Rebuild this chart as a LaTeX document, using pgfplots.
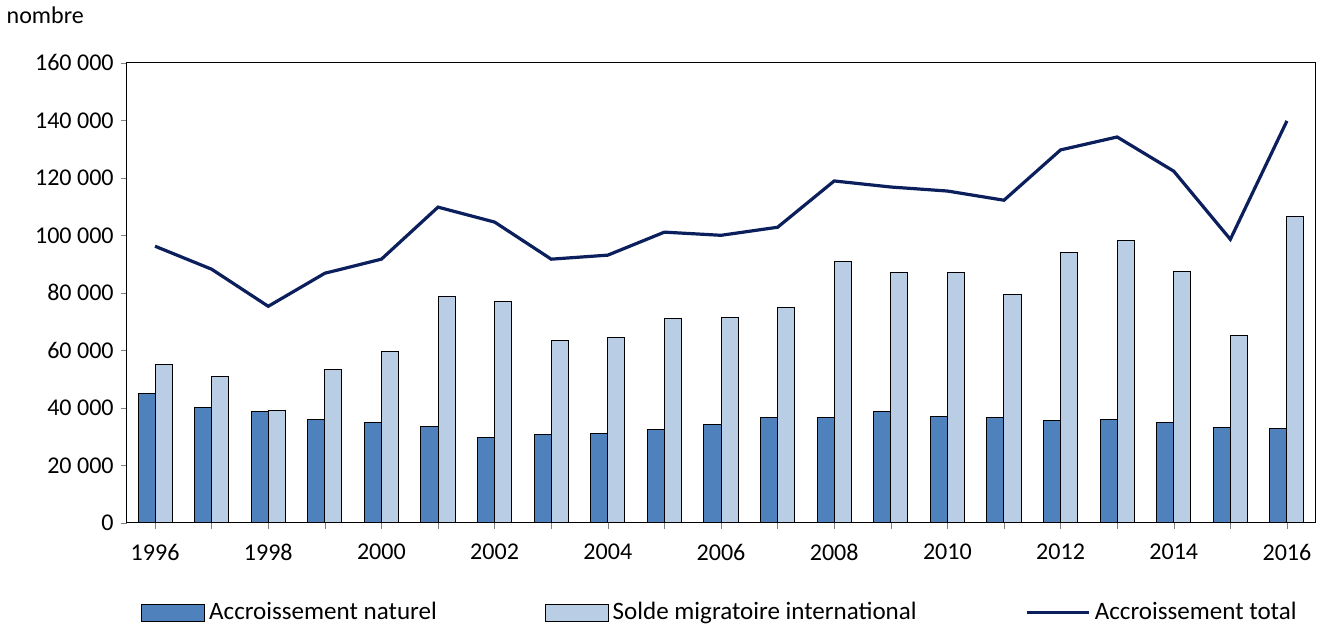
\documentclass[border=0pt]{standalone}
\usepackage{pgfplots}
\pgfplotsset{compat=1.18}
\usepackage{fontspec}
\setmainfont{Carlito}
\definecolor{dark}{HTML}{4F81BD}
\definecolor{light}{HTML}{B9CDE5}
\definecolor{navy}{HTML}{0B1F5C}
\begin{document}
\begin{tikzpicture}
\begin{axis}[
  scale only axis, width=593pt, height=229.5pt,
  xmin=1995.5, xmax=2016.5, ymin=0, ymax=160000,
  scaled y ticks=false,
  xtick={1996,1998,...,2016},
  xticklabel style={/pgf/number format/1000 sep={}, yshift=-4pt},
  minor xtick={1997,1999,...,2015},
  ytick={0,20000,...,160000},
  yticklabels={0,20 000,40 000,60 000,80 000,100 000,120 000,140 000,160 000},
  tick align=outside, tick pos=left,
  major tick length=3pt, minor tick length=3pt,
  ticklabel style={font=\fontsize{12}{14}\selectfont},
  /pgf/number format/assume math mode=true,
  axis line style={black, line width=0.6pt},
  legend style={at={(0.5,-0.155)}, anchor=north, draw=none, legend columns=3,
    font=\fontsize{12.5}{14}\selectfont, /tikz/every even column/.append style={column sep=52pt}},
  legend image code/.code={\draw[#1] (0cm,-0.15cm) rectangle (1.1cm,0.15cm);},
  clip=false,
]
\addplot[ybar, bar width=8.5pt, bar shift=-4.25pt, fill=dark, draw=black, line width=0.5pt] coordinates {
(1996,45000)(1997,40100)(1998,38700)(1999,35900)(2000,34900)(2001,33500)(2002,29600)(2003,30700)(2004,31000)(2005,32400)(2006,34200)(2007,36600)(2008,36600)(2009,38700)(2010,36900)(2011,36600)(2012,35600)(2013,35900)(2014,34900)(2015,33100)(2016,32800)};
\addlegendentry{Accroissement naturel}
\addplot[ybar, bar width=8.5pt, bar shift=4.25pt, fill=light, draw=black, line width=0.5pt] coordinates {
(1996,55100)(1997,50900)(1998,39000)(1999,53300)(2000,59600)(2001,78800)(2002,77000)(2003,63400)(2004,64500)(2005,71100)(2006,71500)(2007,74900)(2008,91000)(2009,87100)(2010,87100)(2011,79500)(2012,94100)(2013,98300)(2014,87500)(2015,65200)(2016,106700)};
\addlegendentry{Solde migratoire international}
\addplot[navy, line width=1.6pt, mark=none, legend image code/.code={\draw[navy,line width=1.6pt] (0cm,0cm) -- (1.1cm,0cm);}] coordinates {
(1996,96200)(1997,88200)(1998,75300)(1999,86800)(2000,91700)(2001,109800)(2002,104600)(2003,91700)(2004,93100)(2005,101100)(2006,100000)(2007,102800)(2008,118900)(2009,116800)(2010,115400)(2011,112200)(2012,129700)(2013,134200)(2014,122300)(2015,98600)(2016,139800)};
\addlegendentry{Accroissement total}
\node[anchor=south west, font=\fontsize{12}{14}\selectfont] at (rel axis cs:-0.107,1.07) {nombre};
\end{axis}
\end{tikzpicture}
\end{document}
